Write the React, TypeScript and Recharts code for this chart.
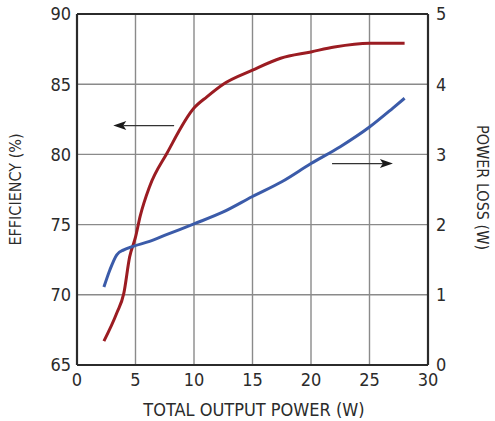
import React from 'react';
import { LineChart, Line, XAxis, YAxis, CartesianGrid, ReferenceLine, Label } from 'recharts';

const xTicks = [0, 5, 10, 15, 20, 25, 30];
const effTicks = [65, 70, 75, 80, 85, 90];
const lossTicks = [0, 1, 2, 3, 4, 5];

const effX = [2.3, 3.4, 4.0, 4.5, 5.0, 5.4, 6.2, 7.7, 10, 11.1, 12.5, 15, 17.4, 20, 22, 25, 28];
const effY = [66.7, 68.7, 70.1, 72.7, 74.1, 75.6, 77.7, 80.1, 83.3, 84.1, 85.0, 86.0, 86.85, 87.3, 87.65, 87.92, 87.92];

const lossX = [2.3, 2.8, 3.4, 4.0, 4.8, 6.2, 7.7, 10, 12.5, 15, 17.5, 20, 22.5, 25, 27, 28];
const lossY = [1.11, 1.35, 1.57, 1.64, 1.69, 1.76, 1.86, 2.01, 2.18, 2.4, 2.61, 2.87, 3.11, 3.39, 3.66, 3.8];

const effArrow = { from: 8.3, to: 3.1, y: 82.05 };
const lossArrow = { from: 21.8, to: 27.0, y: 2.87 };

const effData = effX.map((x, i) => ({ x, eff: effY[i] }));
const lossData = lossX.map((x, i) => ({ x, loss: lossY[i] }));

const FONT = '"Liberation Sans Narrow", "DejaVu Sans Condensed", "Liberation Sans", sans-serif';
const TEXT = '#2b2b2b';
const tickStyle = { fontFamily: FONT, fontSize: 18, fill: TEXT };

const Arrow = (p: any) => {
  const { x1, y1, x2, y2 } = p;
  const dir = Math.sign(x2 - x1);
  const len = 13;
  const half = 4.5;
  const tip = x2;
  const base = x2 - dir * len;
  return (
    <g>
      <line x1={x1} y1={y1} x2={base + dir * 3} y2={y2} stroke="#333" strokeWidth={1.3} />
      <polygon
        points={`${tip},${y2} ${base},${y2 - half} ${base + dir * 3},${y2} ${base},${y2 + half}`}
        fill="#1a1a1a"
      />
    </g>
  );
};

export default function App() {
  return (
    <div style={{ position: 'absolute', left: 0, top: 0, background: '#fff' }}>
      <LineChart width={495} height={421} margin={{ top: 14, right: 0, bottom: 0, left: 0 }}>
        <CartesianGrid yAxisId="eff" stroke="#8a8a8a" strokeWidth={1.4} horizontalValues={effTicks} verticalValues={xTicks} />
        <XAxis
          type="number"
          dataKey="x"
          domain={[0, 30]}
          ticks={xTicks}
          allowDuplicatedCategory={false}
          height={56}
          tickLine={false}
          tickSize={6}
          tickMargin={2}
          axisLine={{ stroke: '#2b2b2b', strokeWidth: 2.2 }}
          tick={tickStyle}
          interval={0}
        >
          <Label
            content={(props: any) => {
              const vb = props.viewBox;
              return (
                <text x={vb.x + vb.width / 2 + 1.5} y={vb.y + 51} textAnchor="middle" style={{ fontFamily: FONT, fontSize: 18, fill: TEXT }}>
                  TOTAL OUTPUT POWER (W)
                </text>
              );
            }}
          />
        </XAxis>
        <YAxis
          yAxisId="eff"
          orientation="left"
          domain={[65, 90]}
          ticks={effTicks}
          width={77}
          tickLine={false}
          tickSize={6}
          tickMargin={0}
          axisLine={{ stroke: '#2b2b2b', strokeWidth: 2.2 }}
          tick={tickStyle}
          interval={0}
        >
          <Label
            content={(props: any) => {
              const vb = props.viewBox;
              const cx = vb.x + 15;
              const cy = vb.y + vb.height / 2;
              return (
                <text x={cx} y={cy} transform={`rotate(-90 ${cx} ${cy})`} textAnchor="middle" dominantBaseline="central" style={{ fontFamily: FONT, fontSize: 16, fill: TEXT }}>
                  EFFICIENCY (%)
                </text>
              );
            }}
          />
        </YAxis>
        <YAxis
          yAxisId="loss"
          orientation="right"
          domain={[0, 5]}
          ticks={lossTicks}
          width={67}
          tickLine={false}
          tickSize={6}
          tickMargin={2}
          axisLine={{ stroke: '#2b2b2b', strokeWidth: 2.2 }}
          tick={tickStyle}
          interval={0}
        >
          <Label
            content={(props: any) => {
              const vb = props.viewBox;
              const cx = vb.x + 54;
              const cy = vb.y + vb.height / 2 - 2;
              return (
                <text x={cx} y={cy} transform={`rotate(90 ${cx} ${cy})`} textAnchor="middle" dominantBaseline="central" style={{ fontFamily: FONT, fontSize: 16, fill: TEXT }}>
                  POWER LOSS (W)
                </text>
              );
            }}
          />
        </YAxis>
        <ReferenceLine yAxisId="eff" y={90} stroke="#2b2b2b" strokeWidth={2.2} />
        <Line
          yAxisId="eff"
          data={effData}
          dataKey="eff"
          type="monotone"
          stroke="#9b1c22"
          strokeWidth={3}
          dot={false}
          activeDot={false}
          isAnimationActive={false}
        />
        <Line
          yAxisId="loss"
          data={lossData}
          dataKey="loss"
          type="monotone"
          stroke="#3b5ba9"
          strokeWidth={3}
          dot={false}
          activeDot={false}
          isAnimationActive={false}
        />
        <ReferenceLine
          yAxisId="eff"
          segment={[{ x: effArrow.from, y: effArrow.y }, { x: effArrow.to, y: effArrow.y }]}
          shape={Arrow}
        />
        <ReferenceLine
          yAxisId="loss"
          segment={[{ x: lossArrow.from, y: lossArrow.y }, { x: lossArrow.to, y: lossArrow.y }]}
          shape={Arrow}
        />
      </LineChart>
    </div>
  );
}
